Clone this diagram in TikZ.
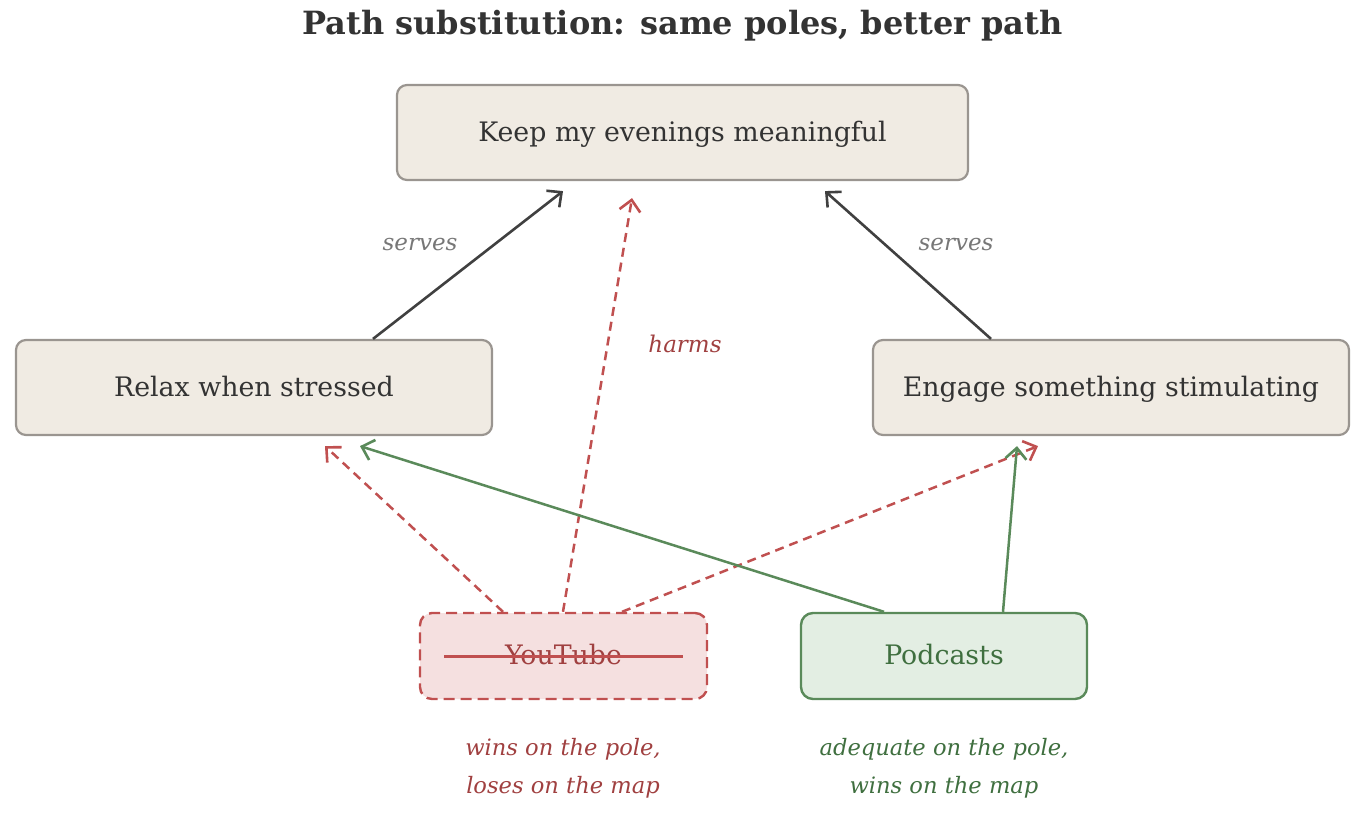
\documentclass[tikz,border=0pt]{standalone}
\usepackage{fontspec}
\setmainfont{DejaVu Serif}
\usetikzlibrary{arrows.meta,calc}
\definecolor{boxfill}{HTML}{F0EBE3}
\definecolor{boxline}{HTML}{9A9590}
\definecolor{darkline}{HTML}{404040}
\definecolor{titlecol}{HTML}{333333}
\definecolor{servecol}{HTML}{777777}
\definecolor{redline}{HTML}{C05050}
\definecolor{redtext}{HTML}{A04040}
\definecolor{redfill}{HTML}{F5E0E0}
\definecolor{greenline}{HTML}{5A8A5A}
\definecolor{greenfill}{HTML}{E3EEE3}
\definecolor{greentext}{HTML}{3F6F3F}
\tikzset{
  goalbox/.style={draw=boxline, fill=boxfill, line width=2.2pt, rounded corners=10pt,
    minimum width=571pt, minimum height=95pt, inner sep=0pt, text=titlecol,
    font=\fontsize{26.8}{30}\selectfont, text depth=3pt},
  redbox/.style={draw=redline, fill=redfill, line width=2.4pt, dash pattern=on 11pt off 6pt,
    rounded corners=12pt, minimum width=287pt, minimum height=86pt, inner sep=0pt, text=redtext,
    font=\fontsize{26.8}{30}\selectfont, text depth=3pt},
  greenbox/.style={draw=greenline, fill=greenfill, line width=2.4pt,
    rounded corners=12pt, minimum width=286pt, minimum height=86pt, inner sep=0pt, text=greentext,
    font=\fontsize{26.8}{30}\selectfont, text depth=3pt},
  tip/.style={-{Straight Barb[length=11pt,width=21pt,line width=2.6pt]}},
  servesarrow/.style={tip, draw=darkline, line width=2.6pt},
  harmarrow/.style={tip, draw=redline, line width=2.5pt, dash pattern=on 9pt off 6pt},
  goodarrow/.style={tip, draw=greenline, line width=2.5pt},
  lbl/.style={font=\itshape\fontsize{23}{26}\selectfont},
  caption/.style={font=\itshape\fontsize{22.6}{38}\selectfont, align=center},
}
\begin{document}
\begin{tikzpicture}[x=1pt,y=-1pt]
\useasboundingbox (0,0) rectangle (1365,818);
\node[font=\bfseries\fontsize{32}{36}\selectfont, text=titlecol] (title) at (682.5,26) {Path substitution: same poles, better path};
\node[goalbox] (top) at (682.5,132.5) {Keep my evenings meaningful};
\node[goalbox, minimum width=476pt] (relax) at (254,387.5) {Relax when stressed};
\node[goalbox, minimum width=476pt] (engage) at (1111,387.5) {Engage something stimulating};
\node[redbox] (yt) at (563.5,656) {YouTube};
\node[greenbox] (pod) at (944,656) {Podcasts};
\draw[redline, line width=3pt] ([xshift=-119.5pt]yt.center) coordinate (s1) -- ([xshift=119.5pt]yt.center) coordinate (s2);
% serves
\draw[servesarrow] ([xshift=119pt]relax.north) -- ([xshift=-119.5pt,yshift=-10pt]top.south);
\draw[servesarrow] ([xshift=-120pt]engage.north) -- ([xshift=142.5pt,yshift=-10pt]top.south);
\node[lbl, text=servecol] (s1l) at (420,245) {serves};
\node[lbl, text=servecol] (s2l) at (956,245) {serves};
% youtube
\draw[harmarrow] ([xshift=-0.5pt]yt.north) -- ([xshift=-50.5pt,yshift=-17pt]top.south);
\node[lbl, text=redtext] (harms) at (685,344) {harms};
\draw[harmarrow] ([xshift=-60.5pt]yt.north) -- ([xshift=71pt,yshift=-10pt]relax.south);
\draw[harmarrow] ([xshift=58.5pt]yt.north) -- ([xshift=-73pt,yshift=-10pt]engage.south);
% podcasts
\draw[goodarrow] ([xshift=-60pt]pod.north) -- ([xshift=106pt,yshift=-10pt]relax.south);
\draw[goodarrow] ([xshift=59pt]pod.north) -- ([xshift=-94pt,yshift=-10pt]engage.south);
% captions
\node[caption, text=redtext] (cap1) at (563,768) {wins on the pole,\\loses on the map};
\node[caption, text=greentext] (cap2) at (944,768) {adequate on the pole,\\wins on the map};
\end{tikzpicture}
\end{document}
